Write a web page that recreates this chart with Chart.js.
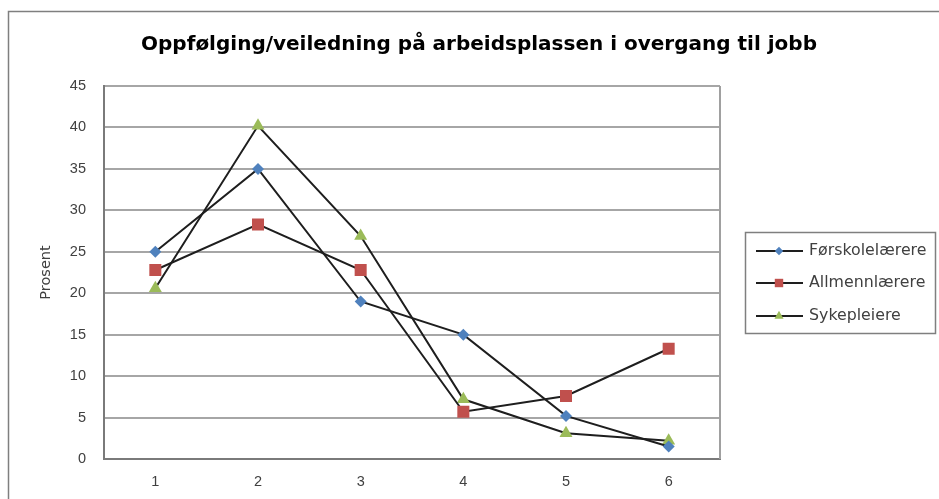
<!DOCTYPE html>
<html>
<head>
<meta charset="utf-8">
<script src="https://cdn.jsdelivr.net/npm/chart.js@4"></script>
<style>
  html, body { margin: 0; padding: 0; background: #fff; }
  #wrap { width: 939px; height: 499px; }
</style>
</head>
<body>
<div id="wrap"><canvas id="chart" width="939" height="499"></canvas></div>
<script>
const categories = ["1", "2", "3", "4", "5", "6"];
const seriesNames = ["Førskolelærere", "Allmennlærere", "Sykepleiere"];
const forskole = [25, 35, 19, 15, 5.2, 1.5];
const allmenn = [22.8, 28.3, 22.8, 5.7, 7.6, 13.3];
const sykepleie = [20.6, 40.2, 26.9, 7.2, 3.1, 2.2];
const yTicks = [0, 5, 10, 15, 20, 25, 30, 35, 40, 45];
const titleText = "Oppfølging/veiledning på arbeidsplassen i overgang til jobb";

const markerColors = ["#4f81bd", "#c0504d", "#9bbb59"];
const markerStyles = ["rectRot", "rect", "triangle"];
const markerRadius = [6, 8.5, 7.5];

function makeSet(i, data) {
  return {
    label: seriesNames[i],
    data,
    borderColor: "#1e1e1e",
    borderWidth: 2,
    pointStyle: markerStyles[i],
    pointRadius: markerRadius[i],
    pointBackgroundColor: markerColors[i],
    pointBorderColor: markerColors[i],
    pointBorderWidth: 0,
    tension: 0,
  };
}

// frame, title, right plot border and the boxed legend
const decor = {
  id: "decor",
  beforeDraw(chart) {
    const ctx = chart.ctx;
    ctx.save();
    ctx.strokeStyle = "#7f7f7f";
    ctx.lineWidth = 1.5;
    ctx.strokeRect(8.5, 11.5, 1100, 1000);
    ctx.fillStyle = "#000";
    ctx.font = "bold 20px 'DejaVu Sans', sans-serif";
    ctx.textAlign = "center";
    ctx.textBaseline = "middle";
    ctx.fillText(titleText, 479, 45);
    ctx.restore();
  },
  afterDraw(chart) {
    const ctx = chart.ctx;
    const a = chart.chartArea;
    ctx.save();
    ctx.strokeStyle = "#a0a0a0";
    ctx.lineWidth = 2;
    ctx.beginPath();
    ctx.moveTo(a.right, a.top);
    ctx.lineTo(a.right, a.bottom);
    ctx.stroke();

    ctx.strokeStyle = "#7f7f7f";
    ctx.lineWidth = 1.5;
    ctx.strokeRect(745.5, 232.5, 190, 101);

    const rows = [251, 283, 316];
    chart.data.datasets.forEach((ds, i) => {
      const y = rows[i];
      ctx.strokeStyle = "#1e1e1e";
      ctx.lineWidth = 2;
      ctx.beginPath();
      ctx.moveTo(756, y);
      ctx.lineTo(803, y);
      ctx.stroke();
      ctx.fillStyle = markerColors[i];
      ctx.strokeStyle = markerColors[i];
      Chart.helpers.drawPoint(ctx, { pointStyle: markerStyles[i], radius: markerRadius[i] * 0.7, borderWidth: 0, rotation: 0 }, 779, y);
      ctx.fillStyle = "#404040";
      ctx.font = "15.8px 'DejaVu Sans', sans-serif";
      ctx.textBaseline = "middle";
      ctx.textAlign = "left";
      ctx.fillText(ds.label, 809, y);
    });
    ctx.restore();
  }
};

new Chart(document.getElementById("chart"), {
  type: "line",
  data: {
    labels: categories,
    datasets: [makeSet(0, forskole), makeSet(1, allmenn), makeSet(2, sykepleie)],
  },
  plugins: [decor],
  options: {
    responsive: false,
    animation: false,
    layout: { padding: { left: 0, right: 219, top: 86, bottom: 0 } },
    plugins: {
      legend: { display: false },
      tooltip: { enabled: false },
      title: { display: false },
    },
    scales: {
      x: {
        offset: true,
        grid: { display: false, drawTicks: false },
        border: { color: "#7a7a7a", width: 2 },
        ticks: { color: "#404040", padding: 14, font: { family: "'Liberation Sans', Arial, sans-serif", size: 14.5 } },
        afterFit(s) { s.height = 40; },
      },
      y: {
        min: 0,
        max: 45,
        afterBuildTicks(s) { s.ticks = yTicks.map(v => ({ value: v })); },
        grid: { color: "#a6a6a6", lineWidth: 2, drawTicks: false },
        border: { color: "#7a7a7a", width: 2 },
        ticks: { color: "#404040", padding: 18, font: { family: "'Liberation Sans', Arial, sans-serif", size: 14.5 } },
        title: {
          display: true,
          text: "Prosent",
          color: "#404040",
          padding: { top: 38, bottom: 0 },
          font: { family: "'DejaVu Sans', sans-serif", size: 14.5 },
        },
        afterFit(s) { s.width = 104; },
      },
    },
  },
});
</script>
</body>
</html>
